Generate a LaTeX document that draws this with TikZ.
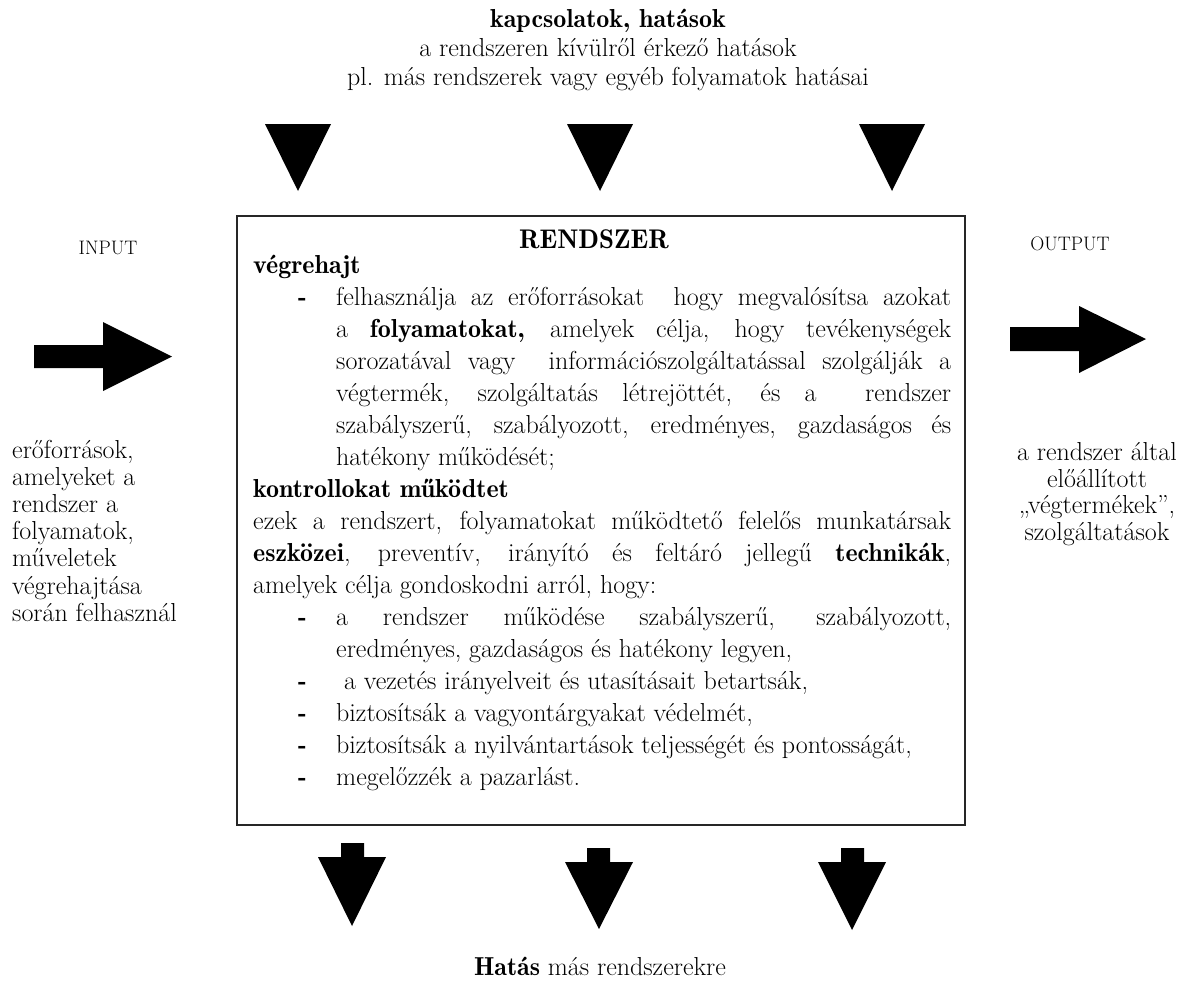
\documentclass[tikz,border=0pt]{standalone}
\newcommand\bodyfont{\fontsize{26}{31}\selectfont}
\newcommand\semib{\fontseries{b}\selectfont}
\begin{document}
\begin{tikzpicture}[x=1pt,y=-1pt,
  txt/.style={inner sep=0pt, anchor=base west, font=\bodyfont},
  ctxt/.style={inner sep=0pt, anchor=base, font=\bodyfont},
  small/.style={inner sep=0pt, anchor=base, font=\fontsize{19.5}{22}\selectfont},
  dashmark/.style={inner sep=0pt, anchor=base west, font=\bodyfont\semib},
  blk/.style={fill=black, draw=none},
  frame/.style={draw=black!85, line width=1.2pt}]
\useasboundingbox (0,0) rectangle (1186,980);

% top text
\node[ctxt] (t1) at (608,27) {{\semib kapcsolatok, hatások}};
\node[ctxt] (t2) at (608,56) {a rendszeren kívülről érkező hatások};
\node[ctxt] (t3) at (608,85) {pl. más rendszerek vagy egyéb folyamatok hatásai};

% top triangles
\fill[blk] (265,124) -- (331,124) -- (298,191) -- cycle;
\fill[blk] (567,124) -- (633,124) -- (600,191) -- cycle;
\fill[blk] (859,124) -- (925,124) -- (892,191) -- cycle;

% box
\draw[frame] (237,216) rectangle (965,825);
\node[ctxt, font=\fontsize{27}{31}\selectfont\semib] (title) at (594,248) {RENDSZER};

\node[txt] (l0) at (253,273) {{\semib végrehajt}};
\node[dashmark] (d1) at (298,305) {-};
\node[txt] (l1) at (336,305) {\makebox[615pt][s]{felhasználja az erőforrásokat\ \ hogy megvalósítsa azokat}};
\node[txt] (l2) at (336,337) {\makebox[615pt][s]{a {\semib folyamatokat,} amelyek célja, hogy tevékenységek}};
\node[txt] (l3) at (336,369) {\makebox[615pt][s]{sorozatával vagy\ \ információszolgáltatással szolgálják a}};
\node[txt] (l4) at (336,401) {\makebox[615pt][s]{végtermék, szolgáltatás létrejöttét, és a\ \ rendszer}};
\node[txt] (l5) at (336,433) {\makebox[615pt][s]{szabályszerű, szabályozott, eredményes, gazdaságos és}};
\node[txt] (l6) at (336,465) {hatékony működését;};
\node[txt] (l7) at (253,497) {{\semib kontrollokat működtet}};
\node[txt] (l8) at (253,529) {\makebox[698pt][s]{ezek a rendszert, folyamatokat működtető felelős munkatársak}};
\node[txt] (l9) at (253,561) {\makebox[698pt][s]{{\semib eszközei}, preventív, irányító és feltáró jellegű {\semib technikák},}};
\node[txt] (l10) at (253,593) {amelyek célja gondoskodni arról, hogy:};
\node[dashmark] (d2) at (298,625) {-};
\node[txt] (l11) at (336,625) {\makebox[615pt][s]{a rendszer működése szabályszerű, szabályozott,}};
\node[txt] (l12) at (336,657) {eredményes, gazdaságos és hatékony legyen,};
\node[dashmark] (d3) at (298,689) {-};
\node[txt] (l13) at (336,689) {\ a vezetés irányelveit és utasításait betartsák,};
\node[dashmark] (d4) at (298,721) {-};
\node[txt] (l14) at (336,721) {biztosítsák a vagyontárgyakat védelmét,};
\node[dashmark] (d5) at (298,753) {-};
\node[txt] (l15) at (336,753) {biztosítsák a nyilvántartások teljességét és pontosságát,};
\node[dashmark] (d6) at (298,785) {-};
\node[txt] (l16) at (336,785) {megelőzzék a pazarlást.};

% input side
\node[small] (inp) at (108,254) {INPUT};
\fill[blk] (34,345) -- (103,345) -- (103,322) -- (172,356.5) -- (103,391) -- (103,368) -- (34,368) -- cycle;
\node[txt] (i1) at (12,458) {erőforrások,};
\node[txt] (i2) at (12,485.2) {amelyeket a};
\node[txt] (i3) at (12,512.4) {rendszer a};
\node[txt] (i4) at (12,539.6) {folyamatok,};
\node[txt] (i5) at (12,566.8) {műveletek};
\node[txt] (i6) at (12,594) {végrehajtása};
\node[txt] (i7) at (12,621.2) {során felhasznál};

% output side
\node[small] (outp) at (1070,250) {OUTPUT};
\fill[blk] (1010,327) -- (1079,327) -- (1079,306) -- (1146,339) -- (1079,373) -- (1079,351) -- (1010,351) -- cycle;
\node[ctxt] (o1) at (1097,460) {a rendszer által};
\node[ctxt] (o2) at (1097,487) {előállított};
\node[ctxt] (o3) at (1097,513) {„végtermékek”,};
\node[ctxt] (o4) at (1097,540) {szolgáltatások};

% bottom arrows
\fill[blk] (341,843) -- (364,843) -- (364,857) -- (386,857) -- (352,926) -- (318,857) -- (341,857) -- cycle;
\fill[blk] (587,848) -- (610,848) -- (610,862) -- (633,862) -- (599,929) -- (565,862) -- (587,862) -- cycle;
\fill[blk] (841,848) -- (864,848) -- (864,862) -- (886,862) -- (852,930) -- (818,862) -- (841,862) -- cycle;

\node[ctxt] (bt) at (600,975) {{\semib Hatás} más rendszerekre};
\end{tikzpicture}
\end{document}
